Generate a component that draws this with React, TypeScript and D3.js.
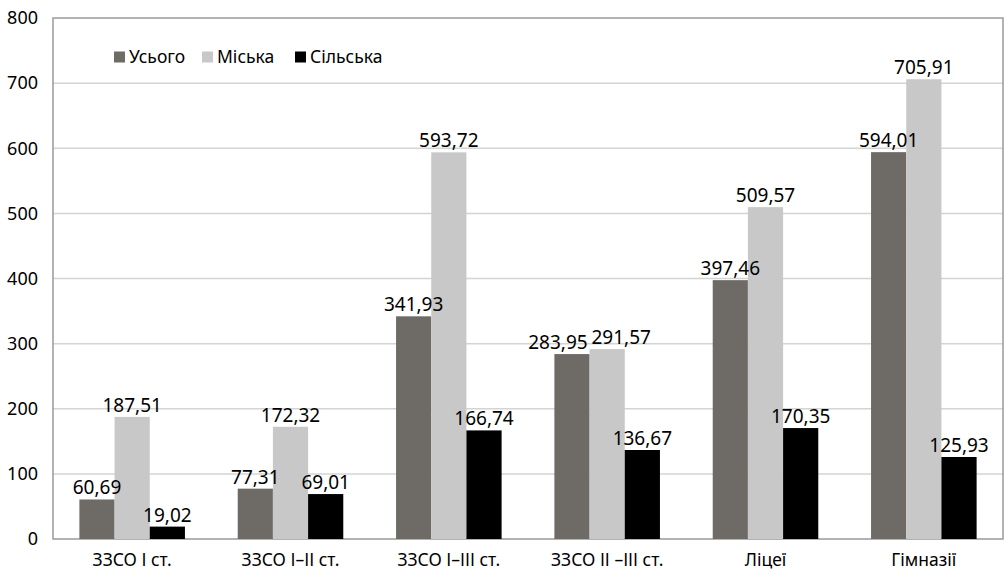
import * as d3 from "d3";

const WIDTH = 1005;
const HEIGHT = 572;
const MARGIN = { top: 18, right: 2, bottom: 33, left: 53 };

const categories = [
  "ЗЗСО І ст.",
  "ЗЗСО І–ІІ ст.",
  "ЗЗСО І–ІІІ ст.",
  "ЗЗСО ІІ –ІІІ ст.",
  "Ліцеї",
  "Гімназії",
];
const seriesNames = ["Усього", "Міська", "Сільська"];
const total = [60.69, 77.31, 341.93, 283.95, 397.46, 594.01];
const urban = [187.51, 172.32, 593.72, 291.57, 509.57, 705.91];
const rural = [19.02, 69.01, 166.74, 136.67, 170.35, 125.93];
const yTicks = [0, 100, 200, 300, 400, 500, 600, 700, 800];

const COLORS = ["#6e6a66", "#c8c8c8", "#000000"];
const FONT = "'Noto Sans', sans-serif";
const LABEL_SIZE = 19;

const fmt = (v: number) => v.toFixed(2).replace(".", ",");
// rough width of a label, digits ~0.572em, comma ~0.26em
const textWidth = (s: string, fs: number) =>
  s.split("").reduce((w, ch) => w + (ch === "," ? 0.26 : 0.572) * fs, 0);

export default function App() {
  const boundsWidth = WIDTH - MARGIN.left - MARGIN.right;
  const boundsHeight = HEIGHT - MARGIN.top - MARGIN.bottom;
  const series = [total, urban, rural];

  const yScale = d3.scaleLinear().domain([0, 800]).range([boundsHeight, 0]);
  const xScale = d3
    .scaleBand()
    .domain(categories)
    .range([0, boundsWidth])
    .paddingInner(1.5 / 4.5)
    .paddingOuter(0.75 / 4.5);
  const inner = d3
    .scaleBand()
    .domain(seriesNames)
    .range([0, xScale.bandwidth()]);

  // data labels, pushed apart when neighbours collide
  const labels = categories.flatMap((c, i) => {
    const group = series.map((s, j) => {
      const text = fmt(s[i]);
      return {
        key: `${i}-${j}`,
        text,
        x: (xScale(c) as number) + (inner(seriesNames[j]) as number) + inner.bandwidth() / 2,
        y: yScale(s[i]) - 5,
        w: textWidth(text, LABEL_SIZE),
      };
    });
    for (let j = 0; j < group.length - 1; j++) {
      const a = group[j];
      const b = group[j + 1];
      if (Math.abs(a.y - b.y) < LABEL_SIZE) {
        const overlap = a.x + a.w / 2 + 4 - (b.x - b.w / 2);
        if (overlap > 0) {
          a.x -= overlap / 2;
          b.x += overlap / 2;
        }
      }
    }
    return group;
  });

  const legendX = [61, 149, 242];

  return (
    <svg width={WIDTH} height={HEIGHT} style={{ position: "absolute", left: 0, top: 0 }}>
      <rect width={WIDTH} height={HEIGHT} fill="#fff" />
      <g transform={`translate(${MARGIN.left},${MARGIN.top})`}>
        {yTicks.slice(1, -1).map((t) => (
          <line key={t} x1={0} x2={boundsWidth} y1={yScale(t)} y2={yScale(t)} stroke="#d4d4d4" strokeWidth={1.5} />
        ))}
        <rect x={0} y={0} width={boundsWidth} height={boundsHeight} fill="none" stroke="#9a9a9a" strokeWidth={1.5} />
        {yTicks.map((t) => (
          <text key={t} x={-15} y={yScale(t)} dy="0.35em" textAnchor="end" fontFamily={FONT} fontSize={18} fill="#000">
            {t}
          </text>
        ))}
        {categories.map((c, i) => (
          <g key={c} transform={`translate(${xScale(c)},0)`}>
            {series.map((s, j) => {
              const y = yScale(s[i]);
              return (
                <rect
                  key={j}
                  x={inner(seriesNames[j])}
                  y={y}
                  width={inner.bandwidth()}
                  height={boundsHeight - y}
                  fill={COLORS[j]}
                />
              );
            })}
            <text x={xScale.bandwidth() / 2} y={boundsHeight + 27} textAnchor="middle" fontFamily={FONT} fontSize={17.5} fill="#000">
              {c}
            </text>
          </g>
        ))}
        {labels.map((l) => (
          <text key={l.key} x={l.x} y={l.y} textAnchor="middle" fontFamily={FONT} fontSize={LABEL_SIZE} fill="#000">
            {l.text}
          </text>
        ))}
        {seriesNames.map((n, j) => (
          <g key={n} transform={`translate(${legendX[j]},39)`}>
            <rect x={0} y={-5.5} width={11} height={11} fill={COLORS[j]} />
            <text x={15} y={0} dy="0.35em" fontFamily={FONT} fontSize={17.5} fill="#000">
              {n}
            </text>
          </g>
        ))}
      </g>
    </svg>
  );
}
